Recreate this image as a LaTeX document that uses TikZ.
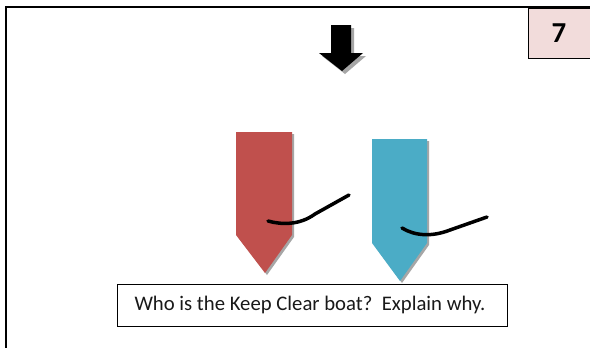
\documentclass[tikz,border=0pt]{standalone}
\usepackage{fontspec}
\setmainfont{Carlito}
\definecolor{boatred}{HTML}{C0504D}
\definecolor{boatblue}{HTML}{4BACC6}
\definecolor{pinkbox}{HTML}{F2DCDB}
\definecolor{shadowgray}{HTML}{A6A6A6}
\begin{document}
\begin{tikzpicture}[x=1bp,y=-1bp,
  boom/.style={line width=3.5bp,line cap=round},
  shade/.style={fill=shadowgray,draw=none},
  qbox/.style={draw=black,line width=1bp,fill=white,minimum width=389bp,minimum height=42bp,inner sep=0pt},
  numbox/.style={draw=black,line width=1bp,fill=pinkbox}]
\useasboundingbox (0,0) rectangle (590,347);
\fill[white] (0,0) rectangle (590,347);
% outer frame
\draw[line width=2bp] (5.5,360) -- (5.5,6.5) -- (600,6.5);
% number box
\draw[numbox] (528,8.5) rectangle (600,58);
\node[font=\fontsize{29}{30}\selectfont\bfseries] (num) at (559,33) {7};
% wind arrow
\fill[shade] (334,28) -- (354,28) -- (354,56) -- (366,56) -- (345,74) -- (322,56) -- (334,56) -- cycle;
\fill[black] (331,25) -- (351,25) -- (351,53) -- (363,53) -- (342,71) -- (319,53) -- (331,53) -- cycle;
% red boat
\fill[shade] (238,134) -- (294,134) -- (294,237) -- (267,275) -- (238,237) -- cycle;
\fill[boatred] (236,132) -- (292,132) -- (292,235) -- (265,273) -- (236,235) -- cycle;
% blue boat
\fill[shade] (374,141) -- (429,141) -- (429,245) -- (402,283) -- (374,245) -- cycle;
\fill[boatblue] (372,139) -- (427,139) -- (427,243) -- (400,281) -- (372,243) -- cycle;
% booms
\coordinate (rb1) at (268,221);
\coordinate (rb2) at (349,195);
\coordinate (bb1) at (402,228);
\coordinate (bb2) at (487,217);
\draw[boom] (rb1) .. controls (282,225) and (300,225) .. (315,214) -- (rb2);
\draw[boom] (bb1) .. controls (415,236) and (432,237) .. (450,230) -- (bb2);
% question
\node[qbox] (q) at (312.5,305) {};
\node[font=\fontsize{20.8}{24}\selectfont,text=black!90,anchor=west] (qt) at (131,305) {Who is the Keep Clear boat?~~Explain why.};
\end{tikzpicture}
\end{document}
